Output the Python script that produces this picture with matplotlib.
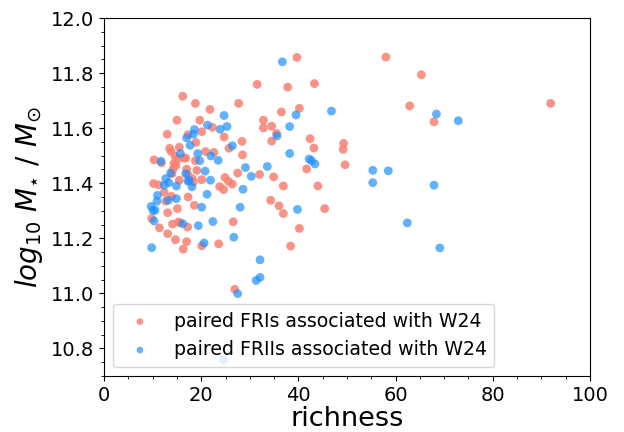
import matplotlib
matplotlib.use("Agg")
import matplotlib.pyplot as plt
from matplotlib.ticker import MultipleLocator

# Paired FRI sources: (richness, log10 stellar mass)
fri_richness = [
    91.9, 58.0, 65.3, 62.9, 67.9,
    39.7, 31.5, 37.8, 43.3, 27.7, 36.5, 40.2, 32.8, 32.8, 34.5, 35.5, 34.5,
    24.7, 42.4, 43.2, 49.3, 49.2, 49.6, 25.7, 28.4, 28.5, 41.7, 32.0, 34.9,
    27.5, 24.9, 25.6, 26.4, 23.8, 36.9, 44.0, 24.6, 34.3, 36.0, 36.9, 45.4,
    26.6, 40.2, 38.4, 26.9, 23.6,
    16.2, 18.8, 21.8, 15.0, 19.7, 22.3, 13.0, 20.1, 17.3, 18.9, 13.5, 13.8,
    15.5, 14.6, 16.4, 15.1, 16.8, 20.9, 22.6, 18.8, 10.3, 11.8, 14.4, 14.8,
    14.2, 17.0, 19.1, 14.0, 17.2, 18.1, 20.1, 10.2, 11.3, 15.5, 18.4,
    12.4, 17.3, 13.9, 12.7, 18.6, 15.1, 13.1, 9.8, 14.1, 15.3, 15.6, 17.2,
    11.4, 13.1, 14.7, 17.0, 20.1, 16.3,
]
fri_mass = [
    11.690, 11.858, 11.794, 11.681, 11.623,
    11.857, 11.759, 11.749, 11.762, 11.690, 11.659, 11.672, 11.629, 11.601,
    11.607, 11.581, 11.553, 11.568, 11.562, 11.528, 11.545, 11.523, 11.467,
    11.527, 11.552, 11.503, 11.452, 11.432, 11.423, 11.437, 11.421, 11.407,
    11.397, 11.388, 11.390, 11.390, 11.377, 11.338, 11.318, 11.290, 11.308,
    11.260, 11.236, 11.172, 11.015, 11.180,
    11.716, 11.690, 11.668, 11.629, 11.629, 11.603, 11.578, 11.587, 11.576,
    11.548, 11.527, 11.516, 11.531, 11.498, 11.492, 11.487, 11.491, 11.515,
    11.512, 11.482, 11.485, 11.474, 11.472, 11.464, 11.451, 11.451, 11.447,
    11.435, 11.432, 11.417, 11.413, 11.399, 11.394, 11.411, 11.405,
    11.367, 11.350, 11.352, 11.335, 11.320, 11.308, 11.293, 11.272, 11.252,
    11.259, 11.257, 11.241, 11.238, 11.217, 11.195, 11.188, 11.173, 11.161,
]

# Paired FRII sources
frii_richness = [
    68.4, 72.9, 55.3, 58.5, 55.3, 67.9, 62.4, 69.1,
    36.7, 39.5, 46.8, 24.7, 38.2, 23.9, 25.3, 35.6, 26.4, 38.2, 42.2, 42.7,
    43.4, 29.1, 33.6, 30.3, 28.6, 23.5,
    39.8, 28.0, 26.7, 32.1, 32.1, 31.3, 27.5, 24.6,
    21.3, 18.6, 18.4, 17.0, 17.7, 15.7, 19.3, 22.0, 19.7, 11.7, 20.8, 13.7,
    16.8, 12.7, 17.5, 21.9, 12.4, 13.3, 14.9, 17.3, 18.1,
    11.0, 21.2, 14.9, 13.2, 10.9, 20.1, 9.7, 10.1, 10.5, 10.3, 16.2, 19.4,
    22.4, 20.6, 9.8,
]
frii_mass = [
    11.651, 11.627, 11.447, 11.445, 11.402, 11.393, 11.256, 11.165,
    11.841, 11.648, 11.662, 11.646, 11.606, 11.596, 11.606, 11.572, 11.536,
    11.508, 11.488, 11.482, 11.470, 11.457, 11.461, 11.425, 11.378, 11.483,
    11.305, 11.313, 11.204, 11.122, 11.058, 11.047, 10.999, 10.760,
    11.611, 11.595, 11.578, 11.565, 11.538, 11.508, 11.508, 11.499, 11.482,
    11.480, 11.444, 11.437, 11.435, 11.417, 11.411, 11.411, 11.393, 11.402,
    11.390, 11.407, 11.387,
    11.356, 11.360, 11.344, 11.338, 11.335, 11.313, 11.316, 11.301, 11.302,
    11.263, 11.253, 11.246, 11.261, 11.183, 11.166,
]

fig = plt.figure(figsize=(6.24, 4.32), dpi=100)
ax = fig.add_axes([0.1667, 0.1296, 0.7788, 0.8287])

ax.scatter(fri_richness, fri_mass, s=40, color="salmon", alpha=0.85,
           edgecolors="none", label="paired FRIs associated with W24")
ax.scatter(frii_richness, frii_mass, s=40, color="dodgerblue", alpha=0.7,
           edgecolors="none", label="paired FRIIs associated with W24")

ax.set_xlim(0, 100)
ax.set_ylim(10.7, 12.0)
ax.xaxis.set_major_locator(MultipleLocator(20))
ax.xaxis.set_minor_locator(MultipleLocator(5))
ax.yaxis.set_major_locator(MultipleLocator(0.2))
ax.yaxis.set_minor_locator(MultipleLocator(0.05))
ax.tick_params(axis="both", which="major", labelsize=14)

ax.set_xlabel("richness", fontsize=19.5, labelpad=1)
ax.set_ylabel(r"$log_{10}\ M_{\star}\ /\ M_{\odot}$", fontsize=20)

ax.legend(loc="lower left", fontsize=13.6, markerscale=0.75)

fig.savefig("out.png", dpi=100)
